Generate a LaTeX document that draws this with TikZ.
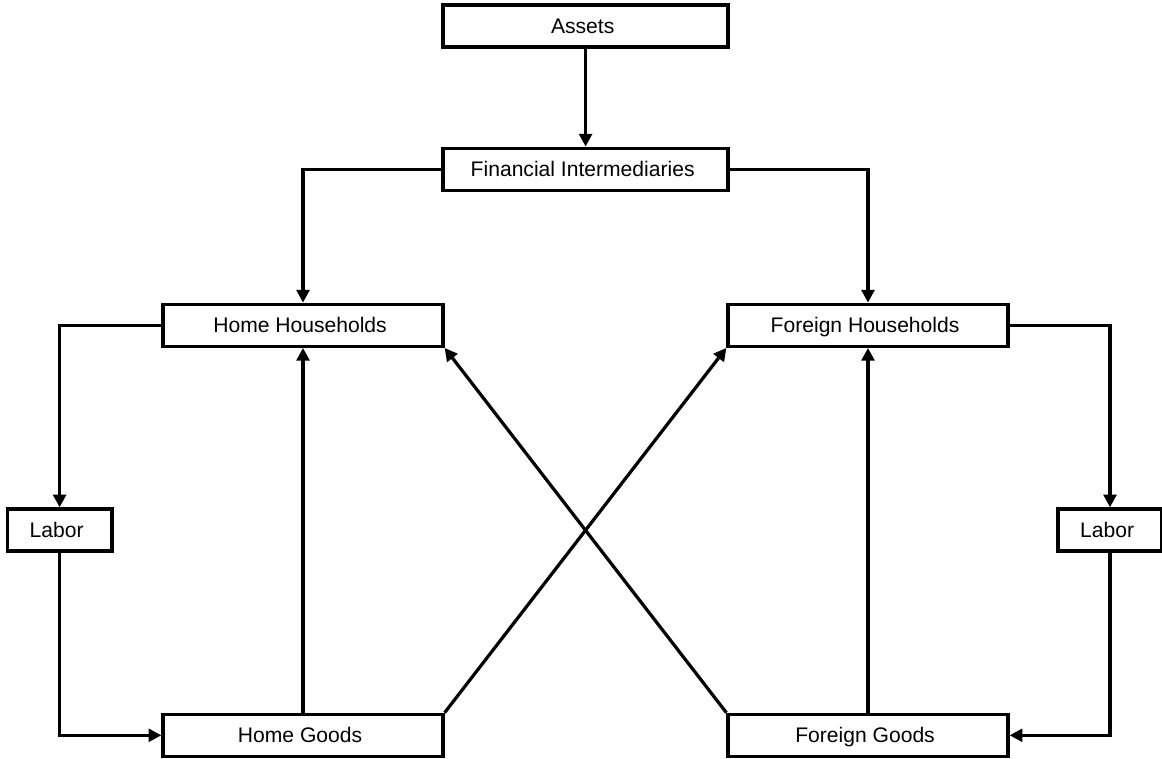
\documentclass[tikz,border=0pt]{standalone}
\usepackage{fontspec}
\setmainfont{Liberation Sans}
\usetikzlibrary{
    positioning,
    arrows.meta
}

\begin{document}
\begin{tikzpicture}
[
    font=\fontsize{15}{18}\selectfont,
    block/.style={
        rectangle,
        draw=black,
        line width=2.3pt,
        align=center,
        text height=12.5pt,
        text depth=2.5pt,
        minimum width=7cm,
        minimum height=1.05cm
    },
    arrow/.style={
        -{Triangle[length=3.2mm,width=3.2mm]},
        line width=2.3pt
    }
]

\useasboundingbox (0,0) rectangle (29.05,-18.975);

% =====================
% TOP
% =====================

\node[
block,
minimum width=7.125cm
]
(assets)
at (14.64,-0.65)
{
Assets
};


\node[
block,
minimum width=7.125cm,
below=2.45cm of assets
]
(fin)
{
Financial Intermediaries
};



% =====================
% HOUSEHOLDS
% =====================

\node[
block,
below=2.77cm of fin,
xshift=-7.065cm
]
(homehh)
{
Home Households
};


\node[
block,
below=2.77cm of fin,
xshift=7.06cm
]
(forhh)
{
Foreign Households
};



% =====================
% LABOR
% =====================

\node[
block,
minimum width=2.62cm
]
(laborhome)
at (1.49,-13.25)
{
Labor
};


\node[
block,
minimum width=2.6cm
]
(laborfor)
at (27.75,-13.25)
{
Labor
};



% =====================
% GOODS
% =====================

\node[
block,
below=9.12cm of homehh
]
(homegoods)
{
Home Goods
};


\node[
block,
below=9.12cm of forhh
]
(forgoods)
{
Foreign Goods
};



% =====================
% CONNECTIONS
% =====================


\draw[arrow]
(assets)
--
(fin);


\draw[arrow]
(fin.west)
-|
(homehh.north);


\draw[arrow]
(fin.east)
-|
(forhh.north);


\draw[arrow]
(homehh.west)
-|
(laborhome.north);


\draw[arrow]
(forhh.east)
-|
(laborfor.north);


\draw[arrow]
(laborhome.south)
|-
(homegoods.west);


\draw[arrow]
(laborfor.south)
|-
(forgoods.east);


\draw[arrow]
(homegoods)
--
(homehh);


\draw[arrow]
(forgoods)
--
(forhh);


\draw[arrow]
(homegoods.north east)
--
(forhh.south west);


\draw[arrow]
(forgoods.north west)
--
(homehh.south east);


\end{tikzpicture}
\end{document}
